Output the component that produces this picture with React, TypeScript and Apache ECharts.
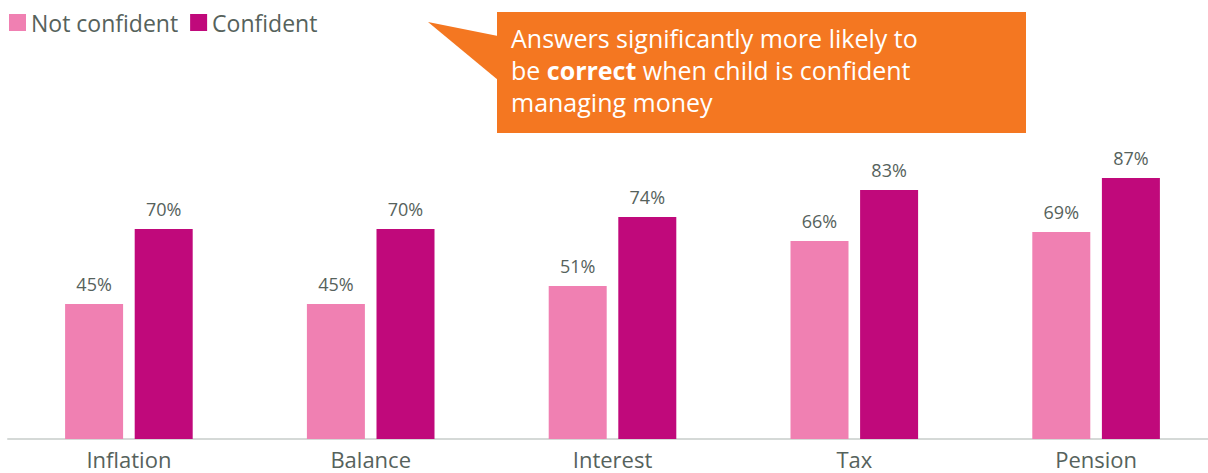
import React, { useEffect, useRef } from "react";
import * as echarts from "echarts";

const categories = ["Inflation", "Balance", "Interest", "Tax", "Pension"];
const notConfident = [45, 45, 51, 66, 69];
const confident = [70, 70, 74, 83, 87];
const seriesNames = ["Not confident", "Confident"];
const calloutLines = [
  "Answers significantly more likely to",
  "be {b|correct} when child is confident",
  "managing money",
];

const FONT = "'Open Sans', sans-serif";
const TEXT = "#56625C";

export default function App() {
  const ref = useRef<HTMLDivElement>(null);
  useEffect(() => {
    if (!ref.current) return;
    const chart = echarts.init(ref.current, undefined, { renderer: "svg" });
    const label = {
      show: true,
      position: "top",
      distance: 11,
      formatter: "{c}%",
      fontSize: 18,
      color: TEXT,
      fontFamily: FONT,
    };
    chart.setOption({
      animation: false,
      textStyle: { fontFamily: FONT },
      legend: {
        left: 9,
        top: 11,
        padding: 0,
        itemWidth: 17,
        itemHeight: 17,
        itemGap: 12,
        icon: "rect",
        textStyle: { fontSize: 23, color: TEXT, fontFamily: FONT },
        data: seriesNames,
      },
      grid: { left: 8, width: 1209, top: 139, bottom: 34, outerBoundsMode: "none", containLabel: false },
      xAxis: {
        type: "category",
        data: categories,
        axisLine: { lineStyle: { color: "#D5D9D7", width: 2 } },
        axisTick: { show: false },
        axisLabel: { fontSize: 22, lineHeight: 22, color: TEXT, margin: 9, fontFamily: FONT },
      },
      yAxis: { type: "value", min: 0, max: 100, show: false, splitLine: { show: false } },
      series: [
        {
          name: seriesNames[0],
          type: "bar",
          data: notConfident,
          barWidth: 58,
          barGap: "20%",
          itemStyle: { color: "#F080B2" },
          label,
        },
        {
          name: seriesNames[1],
          type: "bar",
          data: confident,
          barWidth: 58,
          barGap: "20%",
          itemStyle: { color: "#C0097B" },
          label,
        },
      ],
      graphic: [
        {
          type: "polygon",
          shape: { points: [[428, 22], [498, 36], [498, 80]] },
          style: { fill: "#F47721" },
        },
        {
          type: "rect",
          shape: { x: 497, y: 12, width: 529, height: 121 },
          style: { fill: "#F47721" },
        },
        {
          type: "text",
          left: 511,
          top: 22,
          style: {
            text: calloutLines.join("\n"),
            fill: "#FFFFFF",
            fontSize: 25,
            lineHeight: 32,
            fontFamily: FONT,
            rich: {
              b: { fontWeight: "bold", fontSize: 25, fill: "#FFFFFF", fontFamily: FONT, lineHeight: 32 },
            },
          },
        },
      ],
    });
    return () => chart.dispose();
  }, []);
  return <div ref={ref} style={{ width: 1208, height: 473, position: "absolute", left: 0, top: 0 }} />;
}
